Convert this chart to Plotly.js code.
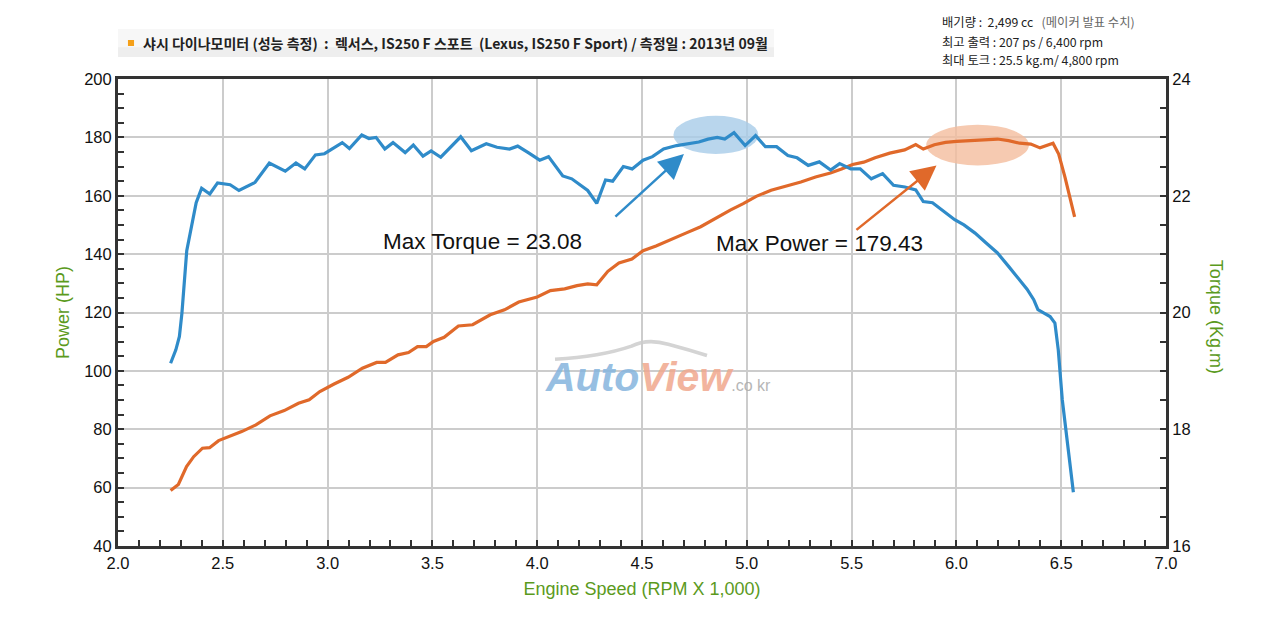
<!DOCTYPE html>
<html>
<head>
<meta charset="utf-8">
<script src="https://cdn.plot.ly/plotly-3.0.1.min.js"></script>
<style>
  html, body { margin: 0; padding: 0; background: #ffffff; }
  #chart { width: 1280px; height: 620px; }
</style>
</head>
<body>
<div id="chart"></div>
<script>
// ---- Data ----
// Torque curve (Kg.m, right axis) vs engine speed (RPM x 1,000)
const torqueRpm = [2.251,2.276,2.293,2.305,2.328,2.351,2.373,2.399,2.438,2.475,2.535,2.577,2.654,2.722,2.798,2.849,2.891,2.942,2.985,3.070,3.104,3.163,3.197,3.231,3.273,3.312,3.370,3.409,3.455,3.494,3.540,3.635,3.686,3.757,3.808,3.868,3.907,3.961,4.012,4.054,4.122,4.165,4.241,4.284,4.326,4.360,4.411,4.453,4.505,4.550,4.603,4.665,4.727,4.771,4.815,4.859,4.895,4.939,4.992,5.042,5.089,5.142,5.196,5.240,5.293,5.346,5.400,5.443,5.496,5.541,5.594,5.648,5.700,5.754,5.806,5.842,5.886,5.939,5.992,6.036,6.089,6.142,6.196,6.249,6.293,6.337,6.369,6.389,6.418,6.447,6.470,6.486,6.505,6.525,6.544,6.558];
const torqueKgm = [19.13,19.36,19.59,19.99,21.06,21.48,21.88,22.13,22.03,22.22,22.19,22.09,22.23,22.56,22.42,22.56,22.46,22.70,22.72,22.91,22.81,23.04,22.98,23.00,22.80,22.91,22.74,22.87,22.68,22.77,22.66,23.01,22.77,22.89,22.83,22.80,22.85,22.73,22.61,22.67,22.34,22.29,22.09,21.87,22.27,22.25,22.50,22.46,22.61,22.67,22.80,22.86,22.90,22.92,22.97,23.00,22.97,23.08,22.86,23.03,22.84,22.84,22.69,22.65,22.52,22.58,22.44,22.55,22.46,22.46,22.29,22.38,22.18,22.15,22.10,21.90,21.88,21.73,21.59,21.50,21.36,21.19,21.02,20.79,20.60,20.40,20.22,20.05,19.99,19.93,19.82,19.36,18.51,17.94,17.37,16.92];
// Power curve (HP, left axis) vs engine speed (RPM x 1,000)
const powerRpm = [2.251,2.288,2.327,2.361,2.403,2.437,2.480,2.539,2.590,2.658,2.725,2.793,2.861,2.912,2.963,3.031,3.098,3.166,3.234,3.276,3.336,3.386,3.429,3.471,3.505,3.556,3.624,3.692,3.776,3.844,3.912,4.000,4.063,4.131,4.190,4.241,4.284,4.337,4.390,4.452,4.505,4.567,4.638,4.709,4.780,4.850,4.921,4.983,5.045,5.116,5.187,5.258,5.328,5.399,5.452,5.505,5.558,5.612,5.682,5.753,5.806,5.842,5.895,5.948,6.001,6.072,6.142,6.196,6.249,6.302,6.355,6.399,6.461,6.488,6.518,6.541,6.564];
const powerHp = [59.0,61.1,67.2,70.6,73.5,73.7,76.1,77.7,79.2,81.5,84.6,86.4,88.9,90.1,92.9,95.5,97.8,100.9,102.9,102.9,105.5,106.3,108.3,108.3,110.1,111.5,115.4,115.8,119.2,120.9,123.6,125.3,127.5,128.1,129.2,129.8,129.5,134.1,137.0,138.3,141.2,142.8,144.9,147.2,149.4,152.3,155.1,157.3,159.8,161.9,163.2,164.7,166.4,167.8,169.2,170.7,171.5,173.0,174.6,175.7,177.5,176.0,177.5,178.3,178.6,178.9,179.1,179.43,178.9,178.0,177.7,176.4,178.0,174.3,166.4,159.6,152.8];

// Texts
const headerText = "샤시 다이나모미터 (성능 측정)  :  렉서스, IS250 F 스포트  (Lexus, IS250 F Sport) / 측정일 : 2013년 09월";
const specLines = [
  "배기량 :  2,499 cc   <span style='color:#666'>(메이커 발표 수치)</span>",
  "최고 출력 : 207 ps / 6,400 rpm",
  "최대 토크 : 25.5 kg.m/ 4,800 rpm"
];
const maxTorqueLabel = "Max Torque = 23.08";
const maxPowerLabel = "Max Power = 179.43";
const xTitle = "Engine Speed (RPM X 1,000)";
const yTitle = "Power (HP)";
const y2Title = "Torque (Kg.m)";

// ---- Styling ----
const BLUE = "#2f8bc9";
const ORANGE = "#e0692a";
const GREEN = "#5b9a1d";
const AXIS = "#333333";
const GRID = "#cccccc";
const SANS = "Liberation Sans, Arial, sans-serif";
const TICKFONT = { family: SANS, size: 16.5, color: "#111" };
const KR = "Noto Sans CJK KR, sans-serif";

const traces = [
  {
    x: powerRpm, y: powerHp, type: "scatter", mode: "lines", name: "Power",
    line: { color: ORANGE, width: 3.2 }, yaxis: "y", hoverinfo: "x+y"
  },
  {
    x: torqueRpm, y: torqueKgm, type: "scatter", mode: "lines", name: "Torque",
    line: { color: BLUE, width: 3.2 }, yaxis: "y2", hoverinfo: "x+y"
  }
];

function axisCommon() {
  return {
    showline: true, linecolor: AXIS, linewidth: 3,
    ticks: "inside", ticklen: 6, tickwidth: 2, tickcolor: AXIS,
    zeroline: false, tickfont: TICKFONT, fixedrange: true
  };
}

const layout = {
  width: 1280, height: 620,
  margin: { l: 118, r: 114, t: 79, b: 74, pad: 0 },
  paper_bgcolor: "#ffffff", plot_bgcolor: "#ffffff",
  showlegend: false,
  font: { family: SANS, color: "#111" },
  xaxis: Object.assign(axisCommon(), {
    range: [2, 7], tick0: 2, dtick: 0.5, tickformat: ".1f",
    showgrid: true, gridcolor: GRID, gridwidth: 2, mirror: true,
    minor: { dtick: 0.1, ticks: "inside", ticklen: 6, tickwidth: 2, tickcolor: AXIS, showgrid: false },
    title: { text: xTitle, font: { family: SANS, size: 18, color: GREEN }, standoff: 12 }
  }),
  yaxis: Object.assign(axisCommon(), {
    range: [40, 200], tick0: 40, dtick: 20,
    showgrid: true, gridcolor: GRID, gridwidth: 2,
    minor: { dtick: 5, ticks: "inside", ticklen: 6, tickwidth: 2, tickcolor: AXIS, showgrid: false },
    title: { text: yTitle, font: { family: SANS, size: 18, color: GREEN }, standoff: 10 }
  }),
  yaxis2: Object.assign(axisCommon(), {
    range: [16, 24], tick0: 16, dtick: 2, overlaying: "y", side: "right",
    showgrid: false,
    minor: { dtick: 0.5, ticks: "inside", ticklen: 6, tickwidth: 2, tickcolor: AXIS, showgrid: false }
  }),
  shapes: [
    // header bar
    { type: "rect", xref: "paper", yref: "paper", x0: 0, x1: 0.626, y0: 1.047, y1: 1.107,
      fillcolor: "#f7f7f7", line: { width: 0 }, layer: "below" },
    { type: "rect", xref: "paper", yref: "paper", x0: 0, x1: 0.626, y0: 1.047, y1: 1.068,
      fillcolor: "#eeeeee", line: { width: 0 }, layer: "below" },
    // orange bullet
    { type: "rect", xref: "paper", yref: "paper", x0: 0.0095, x1: 0.0153, y0: 1.0707, y1: 1.0835,
      fillcolor: "#f5a019", line: { width: 0 } },
    // highlight ellipses
    { type: "circle", xref: "x", yref: "y", x0: 4.65, x1: 5.055, y0: 174.3, y1: 187.4,
      fillcolor: "#a8cce9", opacity: 0.8, line: { width: 0 }, layer: "between" },
    { type: "circle", xref: "x", yref: "y", x0: 5.856, x1: 6.346, y0: 170.4, y1: 184.3,
      fillcolor: "#f4bd9e", opacity: 0.8, line: { width: 0 }, layer: "between" },
    // watermark swoosh
    { type: "path", xref: "paper", yref: "paper",
      path: "M 0.417 0.400 Q 0.46 0.405 0.490 0.428 Q 0.505 0.445 0.525 0.432 Q 0.545 0.420 0.562 0.408",
      line: { color: "#d4d4d4", width: 3.5 }, layer: "below" }
  ],
  annotations: [
    { xref: "paper", yref: "paper", x: 0.0219, y: 1.077, xanchor: "left", yanchor: "middle",
      text: "<b>" + headerText + "</b>", showarrow: false, font: { family: KR, size: 14, color: "#222" } },
    { xref: "paper", yref: "paper", x: 0.784, y: 1.122, xanchor: "left", yanchor: "middle",
      text: specLines[0], showarrow: false, font: { family: KR, size: 12.3, color: "#222" } },
    { xref: "paper", yref: "paper", x: 0.784, y: 1.079, xanchor: "left", yanchor: "middle",
      text: specLines[1], showarrow: false, font: { family: KR, size: 12.3, color: "#222" } },
    { xref: "paper", yref: "paper", x: 0.784, y: 1.041, xanchor: "left", yanchor: "middle",
      text: specLines[2], showarrow: false, font: { family: KR, size: 12.3, color: "#222" } },
    // right axis title (reads top-to-bottom)
    { xref: "paper", yref: "paper", x: 1.048, y: 0.49, xanchor: "center", yanchor: "middle",
      text: y2Title, textangle: 90, showarrow: false,
      font: { family: SANS, size: 18, color: GREEN } },
    // max labels
    { xref: "x", yref: "y", x: 3.741, y: 144.2, text: maxTorqueLabel, showarrow: false,
      font: { family: SANS, size: 22.5, color: "#111" } },
    { xref: "x", yref: "y", x: 5.347, y: 143.5, text: maxPowerLabel, showarrow: false,
      font: { family: SANS, size: 22.5, color: "#111" } },
    // arrows
    { xref: "x", yref: "y", axref: "x", ayref: "y", x: 4.70, y: 174.3, ax: 4.366, ay: 152.4,
      text: "", showarrow: true, arrowhead: 2, arrowsize: 2, arrowwidth: 2.5, arrowcolor: BLUE, standoff: 0 },
    { xref: "x", yref: "y", axref: "x", ayref: "y", x: 5.905, y: 170.4, ax: 5.516, ay: 147.9,
      text: "", showarrow: true, arrowhead: 2, arrowsize: 2, arrowwidth: 2.5, arrowcolor: ORANGE, standoff: 0 },
    // watermark
    { xref: "paper", yref: "paper", x: 0.515, y: 0.362, xanchor: "center", yanchor: "middle",
      text: "<b><i><span style='color:#85b5de'>Auto</span><span style='color:#f0a88e'>View</span></i></b><span style='color:#aaaaaa;font-size:16px'>.co kr</span>",
      showarrow: false, opacity: 0.85,
      font: { family: SANS, size: 41, color: "#85b5de" } }
  ]
};

Plotly.newPlot("chart", traces, layout, { staticPlot: true, displayModeBar: false });
</script>
</body>
</html>
